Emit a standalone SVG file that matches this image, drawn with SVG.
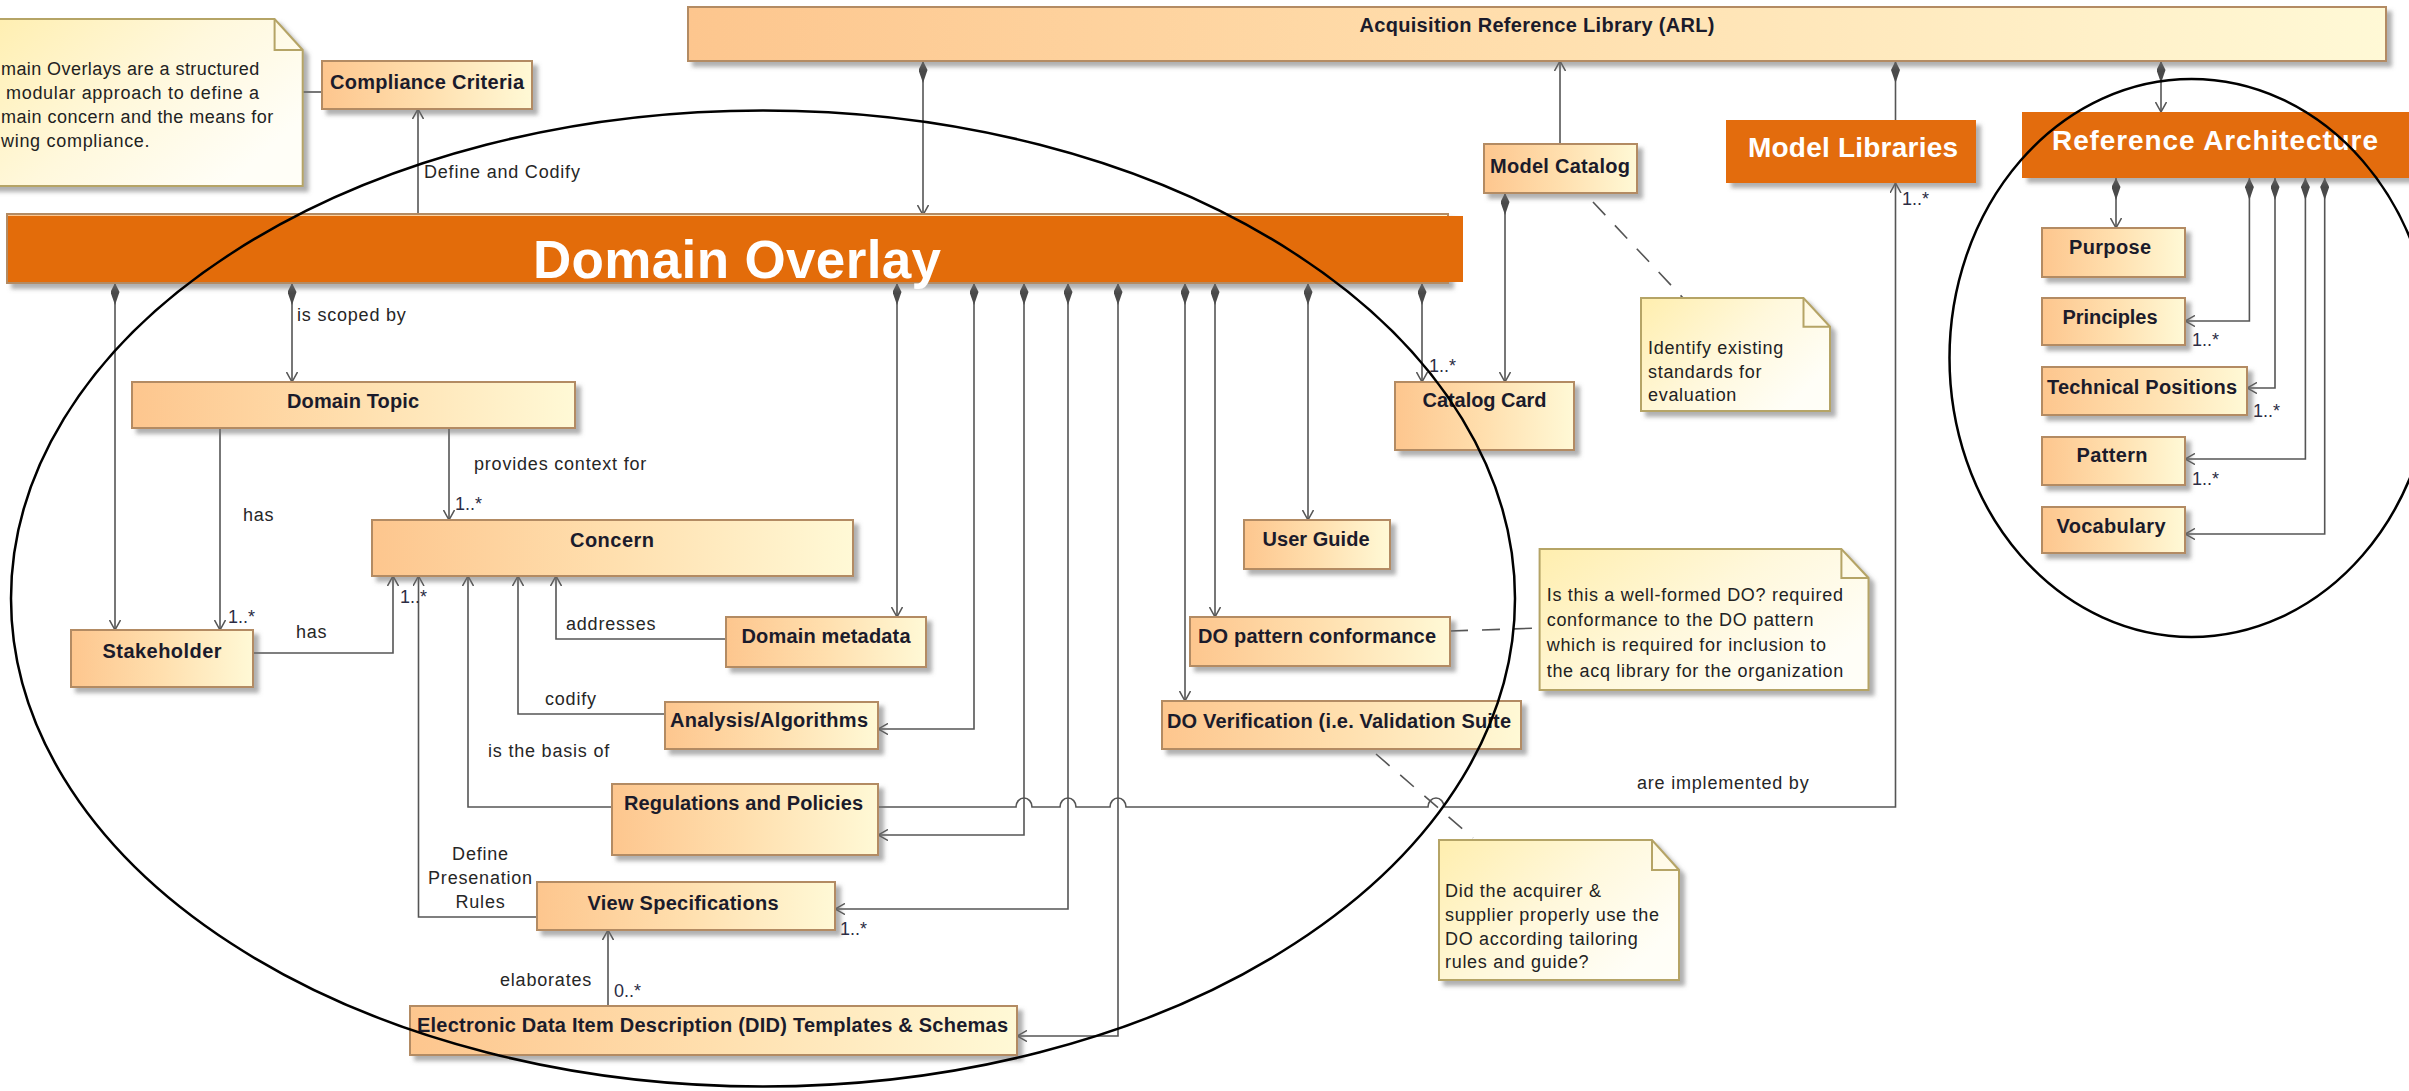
<svg xmlns="http://www.w3.org/2000/svg" width="2409" height="1091" viewBox="0 0 2409 1091">
  <style>
    .box { fill: url(#gBox); stroke: #b38b63; stroke-width: 2; filter: url(#sh); }
    .note { fill: url(#gNote); stroke: #b5a466; stroke-width: 2; filter: url(#sh); }
    .fold { fill: none; stroke: #b5a466; stroke-width: 2; }
    .org { fill: #e36c0a; }
    .lbl { font-family: "Liberation Sans", Arial, sans-serif; font-weight: bold; font-size: 20px; fill: #1b1b2b; text-anchor: middle; }
    .big { font-family: "Liberation Sans", Arial, sans-serif; font-weight: bold; fill: #ffffff; text-anchor: middle; }
    .el { font-family: "Liberation Sans", Arial, sans-serif; font-size: 18px; fill: #262626; letter-spacing: 0.8px; }
    .mul { font-family: "Liberation Sans", Arial, sans-serif; font-size: 18px; fill: #2c2c44; }
    .nt { font-family: "Liberation Sans", Arial, sans-serif; font-size: 18px; fill: #222222; letter-spacing: 0.7px; }
    .c { fill: none; stroke: #555555; stroke-width: 1.6; }
    .d { stroke-dasharray: 18 14; }
    .ov { fill: none; stroke: #000000; stroke-width: 2.5; }
  </style>
  <defs>
    <linearGradient id="gBox" x1="0" y1="0" x2="1" y2="0">
      <stop offset="0" stop-color="#fdc68e"/>
      <stop offset="0.5" stop-color="#ffdfae"/>
      <stop offset="1" stop-color="#fff9d6"/>
    </linearGradient>
    <linearGradient id="gNote" x1="0" y1="0" x2="1" y2="0.6">
      <stop offset="0" stop-color="#ffeeae"/>
      <stop offset="0.55" stop-color="#fff8dc"/>
      <stop offset="1" stop-color="#fffef7"/>
    </linearGradient>
    <filter id="sh" x="-5%" y="-10%" width="115%" height="150%">
      <feDropShadow dx="5" dy="5" stdDeviation="2" flood-color="#6e6e6e" flood-opacity="0.55"/>
    </filter>
    <marker id="arr" viewBox="0 0 10 12" refX="10" refY="6" markerWidth="10" markerHeight="12" markerUnits="userSpaceOnUse" orient="auto">
      <path d="M0,0.5 L10,6 L0,11.5" fill="none" stroke="#555555" stroke-width="1.5"/>
    </marker>
    <marker id="dia" viewBox="0 0 22 9" refX="0" refY="4.5" markerWidth="22" markerHeight="9" markerUnits="userSpaceOnUse" orient="auto">
      <path d="M0,4.5 L9,0 L22,4.5 L9,9 Z" fill="#4a4a4a"/>
    </marker>
  </defs>

  <rect width="2409" height="1091" fill="#ffffff"/>

  <!-- connectors -->
  <g id="connectors">
    <path class="c" d="M923,61 V215" marker-start="url(#dia)" marker-end="url(#arr)"/>
    <path class="c" d="M1560,144 V61" marker-end="url(#arr)"/>
    <path class="c" d="M1895.5,61 V120" marker-start="url(#dia)"/>
    <path class="c" d="M2161,61 V112" marker-start="url(#dia)" marker-end="url(#arr)"/>
    <path class="c" d="M878,807 H1016 a8,9 0 0 1 16,0 H1060 a8,9 0 0 1 16,0 H1110 a8,9 0 0 1 16,0 H1428 a8,9 0 0 1 16,0 H1895.5 V183" marker-end="url(#arr)"/>
    <path class="c" d="M418,215 V109" marker-end="url(#arr)"/>
    <path class="c" d="M115,283 V630" marker-start="url(#dia)" marker-end="url(#arr)"/>
    <path class="c" d="M292,283 V382" marker-start="url(#dia)" marker-end="url(#arr)"/>
    <path class="c" d="M897,283 V617" marker-start="url(#dia)" marker-end="url(#arr)"/>
    <path class="c" d="M974,283 V729 H878" marker-start="url(#dia)" marker-end="url(#arr)"/>
    <path class="c" d="M1024,283 V835 H878" marker-start="url(#dia)" marker-end="url(#arr)"/>
    <path class="c" d="M1068,283 V909 H835" marker-start="url(#dia)" marker-end="url(#arr)"/>
    <path class="c" d="M1118,283 V1036 H1017" marker-start="url(#dia)" marker-end="url(#arr)"/>
    <path class="c" d="M1185,283 V701" marker-start="url(#dia)" marker-end="url(#arr)"/>
    <path class="c" d="M1215,283 V617" marker-start="url(#dia)" marker-end="url(#arr)"/>
    <path class="c" d="M1308,283 V520" marker-start="url(#dia)" marker-end="url(#arr)"/>
    <path class="c" d="M1422,283 V382" marker-start="url(#dia)" marker-end="url(#arr)"/>
    <path class="c" d="M1505,193 V382" marker-start="url(#dia)" marker-end="url(#arr)"/>
    <path class="c" d="M220,428 V630" marker-end="url(#arr)"/>
    <path class="c" d="M449,428 V520" marker-end="url(#arr)"/>
    <path class="c" d="M253,653 H393 V576" marker-end="url(#arr)"/>
    <path class="c" d="M537,917 H418.5 V576" marker-end="url(#arr)"/>
    <path class="c" d="M612,807 H468 V576" marker-end="url(#arr)"/>
    <path class="c" d="M665,714 H518 V576" marker-end="url(#arr)"/>
    <path class="c" d="M726,639 H556 V576" marker-end="url(#arr)"/>
    <path class="c" d="M608,1006 V930" marker-end="url(#arr)"/>
    <path class="c" d="M2116,178 V228" marker-start="url(#dia)" marker-end="url(#arr)"/>
    <path class="c" d="M2249.4,178 V321 H2185" marker-start="url(#dia)" marker-end="url(#arr)"/>
    <path class="c" d="M2275,178 V388 H2247" marker-start="url(#dia)" marker-end="url(#arr)"/>
    <path class="c" d="M2305.4,178 V459 H2185" marker-start="url(#dia)" marker-end="url(#arr)"/>
    <path class="c" d="M2324.7,178 V534 H2185" marker-start="url(#dia)" marker-end="url(#arr)"/>
    <!-- note anchors -->
    <path class="c d" d="M303,92 H322"/>
    <path class="c d" d="M1593,202 L1683,298"/>
    <path class="c d" d="M1450,631 L1540,628"/>
    <path class="c d" d="M1376,754 L1473,838"/>
    <!-- connector labels -->
    <text class="el" x="424" y="178">Define and Codify</text>
    <text class="el" x="297" y="321">is scoped by</text>
    <text class="el" x="243" y="521">has</text>
    <text class="mul" x="228" y="623">1..*</text>
    <text class="el" x="474" y="470">provides context for</text>
    <text class="mul" x="455" y="510">1..*</text>
    <text class="el" x="296" y="638">has</text>
    <text class="mul" x="400" y="603">1..*</text>
    <text class="el" x="566" y="630">addresses</text>
    <text class="el" x="545" y="705">codify</text>
    <text class="el" x="488" y="757">is the basis of</text>
    <text class="el" x="480.5" y="860" text-anchor="middle">Define</text>
    <text class="el" x="480.5" y="884" text-anchor="middle">Presenation</text>
    <text class="el" x="480.5" y="908" text-anchor="middle">Rules</text>
    <text class="mul" x="840" y="935">1..*</text>
    <text class="el" x="500" y="986">elaborates</text>
    <text class="mul" x="614" y="997">0..*</text>
    <text class="el" x="1637" y="789">are implemented by</text>
    <text class="mul" x="1429" y="372">1..*</text>
    <text class="mul" x="1902" y="205">1..*</text>
    <text class="mul" x="2192" y="346">1..*</text>
    <text class="mul" x="2253" y="417">1..*</text>
    <text class="mul" x="2192" y="485">1..*</text>
  </g>

  <!-- library and domain overlay blocks -->
  <g id="arl">
    <rect class="box" x="688" y="7" width="1698" height="54"/>
    <text class="lbl" x="1537" y="32" textLength="355">Acquisition Reference Library (ARL)</text>
  </g>
  <g id="domain-overlay">
    <rect class="box" x="7" y="214" width="1441" height="69"/>
    <rect class="org" x="8" y="216" width="1455" height="66"/>
    <text class="big" x="737" y="278" font-size="53" textLength="408">Domain Overlay</text>
  </g>
  <g id="model-libraries">
    <rect class="org" x="1726" y="120" width="250" height="63" filter="url(#sh)"/>
    <text class="big" x="1853" y="157" font-size="28" textLength="210">Model Libraries</text>
  </g>
  <g id="reference-architecture">
    <rect class="org" x="2022" y="112" width="390" height="66" filter="url(#sh)"/>
    <text class="big" x="2215" y="150" font-size="28" textLength="326">Reference Architecture</text>
  </g>

  <!-- classes -->
  <g id="compliance-criteria">
    <rect class="box" x="322" y="61" width="210" height="48"/>
    <text class="lbl" x="427" y="89" textLength="194">Compliance Criteria</text>
  </g>
  <g id="model-catalog">
    <rect class="box" x="1484" y="144" width="153" height="49"/>
    <text class="lbl" x="1560" y="173" textLength="140">Model Catalog</text>
  </g>
  <g id="catalog-card">
    <rect class="box" x="1395" y="382" width="179" height="68"/>
    <text class="lbl" x="1484.5" y="407" textLength="124">Catalog Card</text>
  </g>
  <g id="domain-topic">
    <rect class="box" x="132" y="382" width="443" height="46"/>
    <text class="lbl" x="353" y="408" textLength="132">Domain Topic</text>
  </g>
  <g id="concern">
    <rect class="box" x="372" y="520" width="481" height="56"/>
    <text class="lbl" x="612" y="547" textLength="84">Concern</text>
  </g>
  <g id="stakeholder">
    <rect class="box" x="71" y="630" width="182" height="57"/>
    <text class="lbl" x="162" y="658" textLength="119">Stakeholder</text>
  </g>
  <g id="domain-metadata">
    <rect class="box" x="726" y="617" width="200" height="50"/>
    <text class="lbl" x="826" y="643" textLength="169">Domain metadata</text>
  </g>
  <g id="user-guide">
    <rect class="box" x="1244" y="520" width="146" height="49"/>
    <text class="lbl" x="1316" y="546" textLength="107">User Guide</text>
  </g>
  <g id="do-pattern-conformance">
    <rect class="box" x="1190" y="617" width="260" height="49"/>
    <text class="lbl" x="1317" y="643" textLength="238">DO pattern conformance</text>
  </g>
  <g id="do-verification">
    <rect class="box" x="1162" y="701" width="359" height="48"/>
    <text class="lbl" x="1339" y="728" textLength="344">DO Verification (i.e. Validation Suite</text>
  </g>
  <g id="analysis-algorithms">
    <rect class="box" x="665" y="702" width="213" height="47"/>
    <text class="lbl" x="769" y="727" textLength="198">Analysis/Algorithms</text>
  </g>
  <g id="regulations-policies">
    <rect class="box" x="612" y="784" width="266" height="71"/>
    <text class="lbl" x="743.5" y="810" textLength="239">Regulations and Policies</text>
  </g>
  <g id="view-specifications">
    <rect class="box" x="537" y="882" width="298" height="48"/>
    <text class="lbl" x="683" y="910" textLength="191">View Specifications</text>
  </g>
  <g id="did-templates">
    <rect class="box" x="410" y="1006" width="607" height="49"/>
    <text class="lbl" x="712.5" y="1032" textLength="591">Electronic Data Item Description (DID) Templates &amp; Schemas</text>
  </g>
  <g id="purpose">
    <rect class="box" x="2042" y="228" width="143" height="49"/>
    <text class="lbl" x="2110" y="254" textLength="82">Purpose</text>
  </g>
  <g id="principles">
    <rect class="box" x="2042" y="298" width="143" height="47"/>
    <text class="lbl" x="2110" y="324" textLength="95">Principles</text>
  </g>
  <g id="technical-positions">
    <rect class="box" x="2042" y="367" width="205" height="48"/>
    <text class="lbl" x="2142" y="394" textLength="190">Technical Positions</text>
  </g>
  <g id="pattern">
    <rect class="box" x="2042" y="437" width="143" height="48"/>
    <text class="lbl" x="2112" y="462" textLength="71">Pattern</text>
  </g>
  <g id="vocabulary">
    <rect class="box" x="2042" y="507" width="143" height="46"/>
    <text class="lbl" x="2111" y="533" textLength="109">Vocabulary</text>
  </g>

  <!-- notes -->
  <g id="note-domain-overlays">
    <path class="note" d="M-20,19 H274.6 L302.7,50 V186 H-20 Z"/>
    <path class="fold" d="M274.6,19 V50 H302.7"/>
    <text class="nt" x="1" y="75" textLength="259">main Overlays are a structured</text>
    <text class="nt" x="6" y="99">modular approach to define a</text>
    <text class="nt" x="1" y="123" textLength="273">main concern and  the means for</text>
    <text class="nt" x="1" y="147">wing compliance.</text>
  </g>
  <g id="note-standards">
    <path class="note" d="M1641,298 H1803.5 L1830,326.7 V411 H1641 Z"/>
    <path class="fold" d="M1803.5,298 V326.7 H1830"/>
    <text class="nt" x="1648" y="354">Identify existing</text>
    <text class="nt" x="1648" y="377.5">standards for</text>
    <text class="nt" x="1648" y="401">evaluation</text>
  </g>
  <g id="note-well-formed">
    <path class="note" d="M1539.6,549 H1841.4 L1868.5,578 V690 H1539.6 Z"/>
    <path class="fold" d="M1841.4,549 V578 H1868.5"/>
    <text class="nt" x="1546.7" y="601">Is this a well-formed DO? required</text>
    <text class="nt" x="1546.7" y="626">conformance to the DO pattern</text>
    <text class="nt" x="1546.7" y="651">which is required for inclusion to</text>
    <text class="nt" x="1546.7" y="677">the acq library for the organization</text>
  </g>
  <g id="note-tailoring">
    <path class="note" d="M1439,840 H1652 L1679,870 V980 H1439 Z"/>
    <path class="fold" d="M1652,840 V870 H1679"/>
    <text class="nt" x="1445" y="897">Did the acquirer &amp;</text>
    <text class="nt" x="1445" y="921">supplier properly use the</text>
    <text class="nt" x="1445" y="945">DO according tailoring</text>
    <text class="nt" x="1445" y="968">rules and guide?</text>
  </g>

  <!-- grouping outlines -->
  <g id="outlines">
    <ellipse class="ov" cx="763" cy="598.5" rx="752" ry="488"/>
    <ellipse class="ov" cx="2191.5" cy="358" rx="242" ry="279"/>
  </g>
</svg>
